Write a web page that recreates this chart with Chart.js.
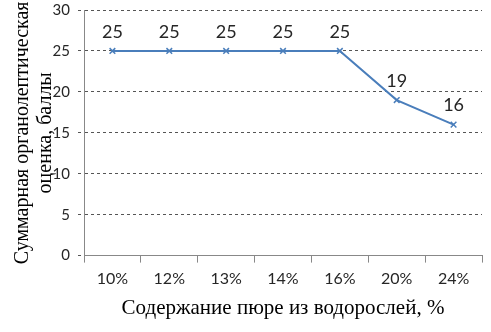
<!DOCTYPE html>
<html>
<head>
<meta charset="utf-8">
<script src="https://cdn.jsdelivr.net/npm/chart.js@4/dist/chart.umd.min.js"></script>
<style>
html,body{margin:0;padding:0;background:#fff;}
#wrap{width:491px;height:332px;}
</style>
</head>
<body>
<div id="wrap"><canvas id="c" width="491" height="332"></canvas></div>
<script>
const categories = ['10%','12%','13%','14%','16%','20%','24%'];
const scores = [25,25,25,25,25,19,16];
const yTitle = ['Суммарная органолептическая','оценка, баллы'];
const xTitle = 'Содержание пюре из водорослей, %';

const labelPlugin = {
  id: 'pointLabels',
  afterDatasetsDraw(chart) {
    const ctx = chart.ctx;
    const meta = chart.getDatasetMeta(0);
    ctx.save();
    ctx.font = '18px Lato';
    ctx.fillStyle = '#262626';
    ctx.textAlign = 'center';
    ctx.textBaseline = 'middle';
    meta.data.forEach((pt, i) => {
      ctx.fillText(String(scores[i]), pt.x, pt.y - 19);
    });
    ctx.restore();
  }
};

new Chart(document.getElementById('c'), {
  type: 'line',
  data: {
    labels: categories,
    datasets: [{
      data: scores,
      borderColor: '#4A7EBB',
      borderWidth: 2,
      pointStyle: 'crossRot',
      pointRadius: 4,
      pointBorderWidth: 1.5,
      pointBorderColor: '#4A7EBB',
      tension: 0,
      fill: false
    }]
  },
  options: {
    responsive: false,
    animation: false,
    layout: { padding: { top: 10, right: 9, left: 11, bottom: 11 } },
    plugins: { legend: { display: false }, tooltip: { enabled: false } },
    scales: {
      x: {
        offset: true,
        grid: { offset: true, drawOnChartArea: false, drawTicks: true, tickLength: 7, color: '#888' },
        border: { color: '#888', width: 1 },
        ticks: { font: { family: 'Lato', size: 16 }, color: '#262626', padding: 7 },
        title: { display: true, text: xTitle, font: { family: 'Liberation Serif', size: 21 }, color: '#000', padding: { top: 0, bottom: 0 } }
      },
      y: {
        min: 0, max: 30,
        afterFit(scale) { scale.width = 73; scale.paddingTop = 0; scale.paddingBottom = 0; },
        ticks: { stepSize: 5, font: { family: 'Lato', size: 15 }, color: '#262626', padding: 8 },
        grid: { color: '#555', tickLength: 6, borderDash: [3,3], tickBorderDash: [3,3] },
        border: { color: '#888', width: 1, dash: [3,3] },
        title: { display: true, text: yTitle, font: { family: 'Liberation Serif', size: 20, lineHeight: 1.15 }, color: '#000', padding: { top: 0, bottom: 0 } }
      }
    }
  },
  plugins: [labelPlugin]
});
</script>
</body>
</html>
